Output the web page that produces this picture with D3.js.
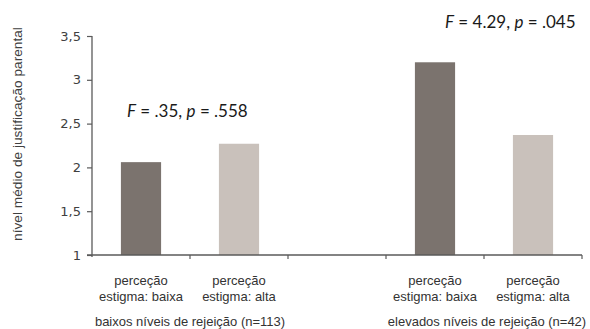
<!DOCTYPE html>
<html><head><meta charset="utf-8">
<script src="https://cdn.jsdelivr.net/npm/d3@7"></script>
<style>body{margin:0;background:#fff}svg{display:block}</style>
</head><body>
<svg id="c" width="590" height="329"></svg>
<script>
const categories = ["g1-baixa","g1-alta","gap","g2-baixa","g2-alta"];
const catLabels = [["perceção","estigma: baixa"],["perceção","estigma: alta"],null,["perceção","estigma: baixa"],["perceção","estigma: alta"]];
const values = [2.06, 2.27, null, 3.20, 2.37];
const barType = ["baixa","alta",null,"baixa","alta"];
const yTicks = [1, 1.5, 2, 2.5, 3, 3.5];
const groupLabels = ["baixos níveis de rejeição (n=113)", "elevados níveis de rejeição (n=42)"];
const groupCats = [["g1-baixa","g1-alta"],["g2-baixa","g2-alta"]];
const stats = [{F:".35", p:".558", cat:"g1-baixa"},{F:"4.29", p:".045", cat:"g2-baixa"}];
const colors = {baixa:"#7b736e", alta:"#c9c1bb"};

const svg = d3.select("#c");
const x = d3.scaleBand().domain(categories).range([92, 582]).padding(0);
const y = d3.scaleLinear().domain([1, 3.5]).range([255, 36]);
const axisColor = "#5a5a5a";

// bars
const bw = x.bandwidth() * 0.41;
svg.append("g").selectAll("rect")
  .data(categories.map((c,i)=>({c, v:values[i], t:barType[i]})).filter(d=>d.v!=null))
  .join("rect")
  .attr("x", d => x(d.c) + x.bandwidth()/2 - bw/2)
  .attr("width", bw)
  .attr("y", d => y(d.v))
  .attr("height", d => y(1) - y(d.v))
  .attr("fill", d => colors[d.t]);

// y axis
const ya = svg.append("g").attr("transform","translate(92,0)")
  .call(d3.axisLeft(y).tickValues(yTicks).tickSize(5).tickPadding(6)
    .tickFormat(d => String(d).replace(".", ",")));
ya.select(".domain").attr("stroke", axisColor).attr("stroke-width",1.3)
  .attr("d", "M0," + (y(3.5)) + "V" + (y(1)+2));
ya.selectAll(".tick line").attr("stroke", axisColor).attr("stroke-width",1.2);
ya.selectAll(".tick text").attr("font-family","DejaVu Sans").attr("font-size",13).attr("fill","#404040");

// x axis
const xa = svg.append("g").attr("transform","translate(0," + y(1) + ")");
xa.append("line").attr("x1", 87).attr("x2", x.range()[1]).attr("stroke", axisColor).attr("stroke-width",1.3);
const bounds = categories.map(c => x(c)).concat([x.range()[1]]);
xa.selectAll("line.tk").data(bounds.slice(1)).join("line").attr("class","tk")
  .attr("x1", d=>d).attr("x2", d=>d).attr("y1",0).attr("y2",4)
  .attr("stroke", axisColor).attr("stroke-width",1.2);

// category labels
categories.forEach((c,i) => {
  if (!catLabels[i]) return;
  const t = svg.append("text").attr("text-anchor","middle")
    .attr("font-family","Liberation Sans, Arial").attr("font-size",13).attr("fill","#333");
  catLabels[i].forEach((s,j) => t.append("tspan").attr("x", x(c)+x.bandwidth()/2).attr("y", 285 + j*16).text(s));
});

// group labels
groupLabels.forEach((g,i) => {
  const cs = groupCats[i];
  const cx = (x(cs[0]) + x(cs[1]) + x.bandwidth()) / 2;
  svg.append("text").attr("x", cx + (i===1?3:0)).attr("y", 326).attr("text-anchor","middle")
    .attr("font-family","Liberation Sans, Arial").attr("font-size",13).attr("fill","#333").text(g);
});

// stats annotations
const statPos = [{dx:35, y:117},{dx:59, y:28}];
stats.forEach((s,i) => {
  const t = svg.append("text").attr("x", x(s.cat) + statPos[i].dx).attr("y", statPos[i].y)
    .attr("font-family","Lato, Open Sans").attr("font-size",17).attr("fill","#1a1a1a");
  t.append("tspan").attr("font-style","italic").text("F");
  t.append("tspan").text(" = " + s.F + ", ");
  t.append("tspan").attr("font-style","italic").text("p");
  t.append("tspan").text(" = " + s.p);
});

// y title
svg.append("text").attr("transform","translate(22,134) rotate(-90)").attr("text-anchor","middle")
  .attr("font-family","Liberation Sans, Arial").attr("font-size",13.7).attr("fill","#404040")
  .text("nível médio de justificação parental");
</script>
</body></html>
